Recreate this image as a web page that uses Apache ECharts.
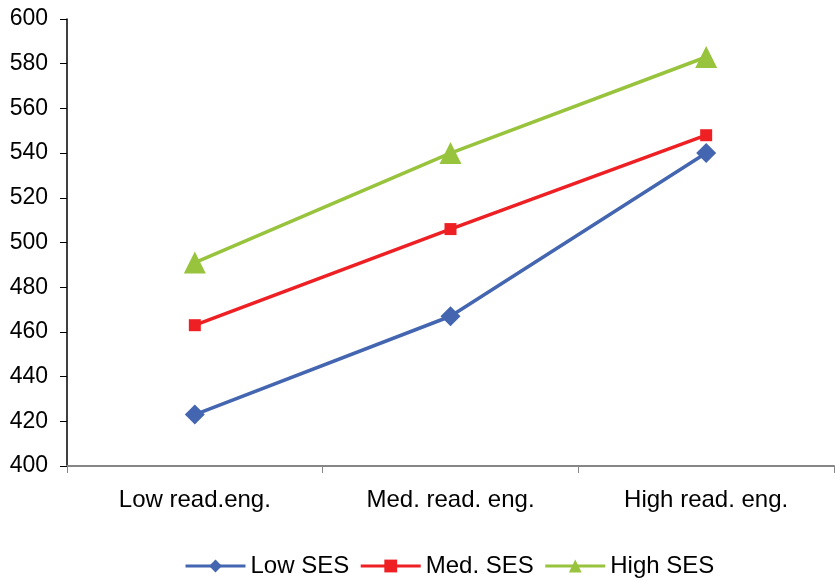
<!DOCTYPE html>
<html><head><meta charset="utf-8">
<script src="https://cdn.jsdelivr.net/npm/echarts@6/dist/echarts.min.js"></script>
<style>html,body{margin:0;padding:0;background:#fff}#c{width:835px;height:581px}</style>
</head><body><div id="c"></div>
<script>
var categories = ['Low read.eng.', 'Med. read. eng.', 'High read. eng.'];
var lowSES = [423, 467, 540];
var medSES = [463, 506, 548];
var highSES = [491, 540, 583];
var seriesNames = ['Low SES', 'Med. SES', 'High SES'];
var colors = ['#4466b0', '#ee2024', '#98c33c'];

var chart = echarts.init(document.getElementById('c'));
var font = 'Liberation Sans, Arial, sans-serif';
function mk(name, data, color, symbol, size) {
  return {
    name: name, type: 'line', data: data, symbol: symbol, symbolSize: size,
    lineStyle: {color: color, width: 3.5}, itemStyle: {color: color},
    showAllSymbol: true, animation: false
  };
}
chart.setOption({
  animation: false,
  grid: {left: 67, right: 1, top: 19, bottom: 115, containLabel: false},
  legend: {
    bottom: -2, left: 179, itemWidth: 60, itemHeight: 16, itemGap: 10,
    lineStyle: {width: 3},
    textStyle: {fontFamily: font, fontSize: 24, color: '#000'},
    data: seriesNames
  },
  xAxis: {
    type: 'category', data: categories, boundaryGap: true,
    axisLine: {lineStyle: {color: '#868686', width: 2}},
    axisTick: {show: true, length: 7, lineStyle: {color: '#868686', width: 1}},
    axisLabel: {fontFamily: font, fontSize: 24, color: '#000', margin: 22}
  },
  yAxis: {
    type: 'value', min: 400, max: 600, interval: 20,
    axisLine: {show: true, lineStyle: {color: '#000', width: 1.5}},
    axisTick: {show: true, length: 7, lineStyle: {color: '#000'}},
    splitLine: {show: false},
    axisLabel: {fontFamily: font, fontSize: 23, color: '#000', margin: 19}
  },
  series: [
    mk(seriesNames[0], lowSES, colors[0], 'diamond', 20),
    mk(seriesNames[1], medSES, colors[1], 'rect', 12),
    mk(seriesNames[2], highSES, colors[2], 'triangle', 22)
  ]
});
</script></body></html>
